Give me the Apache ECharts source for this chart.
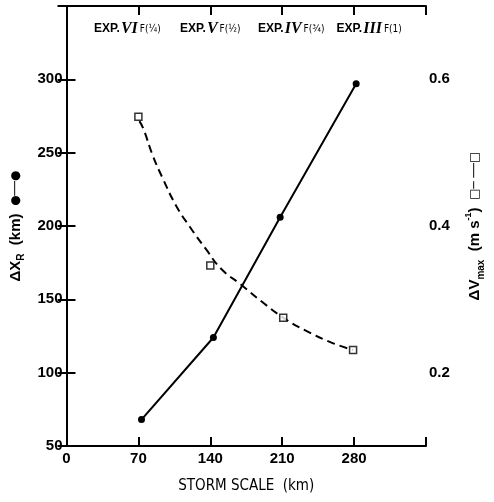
<!DOCTYPE html>
<html>
<head>
<meta charset="utf-8">
<script src="https://cdn.jsdelivr.net/npm/echarts@6/dist/echarts.min.js"></script>
<style>
  html, body { margin: 0; padding: 0; background: #fff; }
  #chart { width: 494px; height: 502px; }
</style>
</head>
<body>
<div id="chart"></div>
<script>
  // dX_R (km) against storm scale (km), left axis
  var scaleXR = [73, 143, 208, 282];
  var deltaXR = [68, 124, 206, 297];
  // dV_max (m s-1) against storm scale (km), right axis
  var scaleVmax = [70, 140, 211, 279];
  var deltaVmax = [0.549, 0.346, 0.275, 0.231];
  // hand drawn dashed curve through the dV_max points
  var fitScale = [71, 75, 84, 94, 107, 120, 136, 151, 170, 190, 211, 232, 258, 279];
  var fitVmax = [0.543, 0.532, 0.496, 0.464, 0.427, 0.399, 0.368, 0.341, 0.320, 0.297, 0.275, 0.258, 0.241, 0.231];
  // experiment labels along the top
  var expScale = [70, 140, 210, 280];
  var expRoman = ['VI', 'V', 'IV', 'III'];
  var expFrac = ['F(\u00bc)', 'F(\u00bd)', 'F(\u00be)', 'F(1)'];
  var xTicks = [0, 70, 140, 210, 280];
  var leftTicks = [50, 100, 150, 200, 250, 300];
  var rightTicks = [0.2, 0.4, 0.6];

  function pairs(xs, ys) {
    var out = [];
    for (var i = 0; i < xs.length; i++) out.push([xs[i], ys[i]]);
    return out;
  }

  var expShift = [-11, 0, 9, 15];
  var expRich = {
    e: { fontFamily: 'Liberation Sans', fontWeight: 'bold', fontSize: 12, color: '#000' },
    r: { fontFamily: 'Liberation Serif', fontStyle: 'italic', fontWeight: 'bold', fontSize: 16, color: '#000', padding: [0, 2, 0, 1] },
    f: { fontFamily: 'DejaVu Sans Condensed', fontSize: 10, color: '#000' }
  };
  for (var k = 0; k < expShift.length; k++) {
    expRich['g' + k] = { width: Math.abs(expShift[k]) * 2, fontSize: 9 };
  }

  var tickFont = { fontFamily: 'Liberation Sans', fontWeight: 'bold', fontSize: 15, color: '#000' };
  var nameRich = {
    t: { fontFamily: 'Liberation Sans', fontWeight: 'bold', fontSize: 15, lineHeight: 22, color: '#000' },
    sub: { fontFamily: 'Liberation Sans', fontWeight: 'bold', fontSize: 10, lineHeight: 10, verticalAlign: 'bottom', color: '#000' },
    sup: { fontFamily: 'Liberation Sans', fontWeight: 'bold', fontSize: 9, lineHeight: 9, verticalAlign: 'top', color: '#000' },
    s: { fontFamily: 'DejaVu Sans', fontSize: 12, lineHeight: 22, color: '#000' }
  };
  var axisBlack = { lineStyle: { color: '#000', width: 2 } };
  var tickIn = { inside: true, length: 9, lineStyle: { color: '#000', width: 2 } };

  var myChart = echarts.init(document.getElementById('chart'));
  var option = {
    animation: false,
    backgroundColor: '#fff',
    grid: { left: 65, right: 61, top: 6, bottom: 56 },
    xAxis: [
      {
        type: 'value', position: 'bottom', min: 0, max: 350, interval: 70,
        axisLine: axisBlack, axisTick: tickIn, splitLine: { show: false },
        axisLabel: Object.assign({ margin: 5, formatter: function (v) {
          return xTicks.indexOf(v) >= 0 ? String(v) : '';
        } }, tickFont),
        name: 'STORM SCALE  (km)', nameLocation: 'middle', nameGap: 33,
        nameTextStyle: { fontFamily: 'DejaVu Sans Condensed', fontSize: 15, color: '#000' }
      },
      {
        type: 'value', position: 'top', min: 0, max: 350, interval: 70,
        axisLine: axisBlack, axisTick: tickIn, splitLine: { show: false },
        axisLabel: {
          inside: true, margin: 15, rich: expRich,
          formatter: function (v) {
            var i = expScale.indexOf(v);
            if (i < 0) return '';
            var s = '{e|EXP.}{r|' + expRoman[i] + '}{f|' + expFrac[i] + '}';
            if (expShift[i] < 0) s = s + '{g' + i + '| }';
            if (expShift[i] > 0) s = '{g' + i + '| }' + s;
            return s;
          }
        }
      }
    ],
    yAxis: [
      {
        type: 'value', position: 'left', min: 50, max: 350, interval: 50,
        axisLine: axisBlack, axisTick: tickIn, splitLine: { show: false },
        axisLabel: Object.assign({ margin: 4, formatter: function (v) {
          return leftTicks.indexOf(v) >= 0 ? String(v) : '';
        } }, tickFont),
        name: '{t|\u0394X}{sub|R}{t|  (km)}{s|  \u25cf\u2500\u2500\u25cf}',
        nameLocation: 'middle', nameRotate: 90, nameGap: 40,
        nameTextStyle: { rich: nameRich }
      },
      {
        type: 'value', position: 'right', min: 0.1, max: 0.7, interval: 0.1,
        axisLine: axisBlack, axisTick: tickIn, splitLine: { show: false },
        axisLabel: Object.assign({ margin: 3, formatter: function (v) {
          var r = Math.round(v * 10) / 10;
          return rightTicks.indexOf(r) >= 0 ? r.toFixed(1) : '';
        } }, tickFont),
        name: '{t|\u0394V}{sub|max}{t|  (m s}{sup|-1}{t|)}{s|  \u25a1\u2500 \u2500\u2500\u25a1}',
        nameLocation: 'middle', nameRotate: 90, nameGap: 38,
        nameTextStyle: { rich: nameRich }
      }
    ],
    series: [
      {
        name: 'fit', type: 'line', xAxisIndex: 0, yAxisIndex: 1,
        data: pairs(fitScale, fitVmax), smooth: true, showSymbol: false, symbol: 'none',
        lineStyle: { color: '#000', width: 2, type: [8, 5] }, z: 2
      },
      {
        name: 'dVmax', type: 'scatter', xAxisIndex: 0, yAxisIndex: 1,
        data: pairs(scaleVmax, deltaVmax), symbol: 'rect', symbolSize: 7,
        itemStyle: { color: '#fff', borderColor: '#000', borderWidth: 1.5 }, z: 4
      },
      {
        name: 'dXR', type: 'line', xAxisIndex: 0, yAxisIndex: 0,
        data: pairs(scaleXR, deltaXR), symbol: 'circle', symbolSize: 7, showSymbol: true,
        itemStyle: { color: '#000' }, lineStyle: { color: '#000', width: 2 }, z: 3
      }
    ]
  };
  myChart.setOption(option);
  window.addEventListener('resize', function () { myChart.resize(); });
</script>
</body>
</html>
